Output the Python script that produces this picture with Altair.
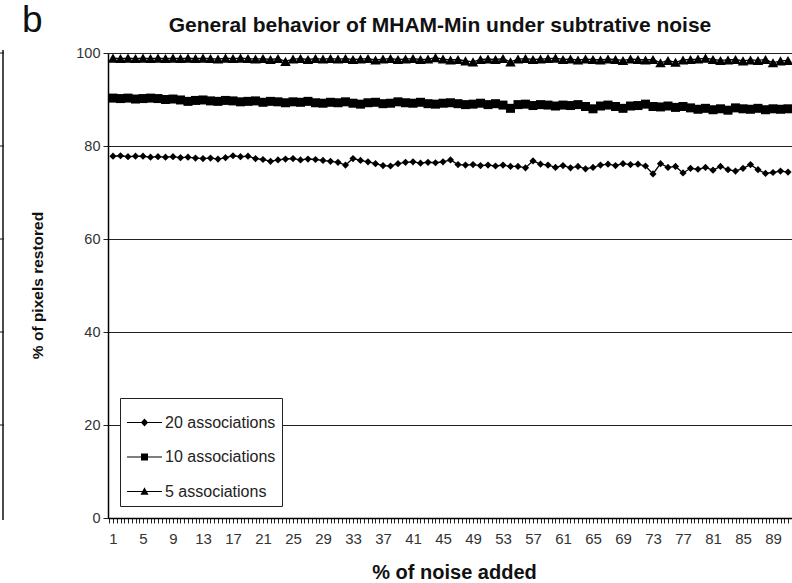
import altair as alt
import pandas as pd

noise = list(range(1, 92))

assoc20 = [77.8, 77.9, 77.7, 77.8, 77.8, 77.6, 77.7, 77.6, 77.7, 77.5, 77.6,
           77.4, 77.3, 77.4, 77.2, 77.5,
           77.9, 77.7, 77.8,
           77.3, 77.1, 76.7, 77.0, 77.2,
           77.3, 77.0, 77.2, 77.1, 76.9, 76.7, 76.5,
           75.9, 77.3, 76.9, 76.6, 76.2, 75.8, 75.7,
           76.2, 76.5, 76.6, 76.3, 76.5, 76.4, 76.6, 77.0,
           76.0, 75.9, 76.0, 75.8, 75.9, 75.7, 75.9, 75.6, 75.6, 75.3,
           76.8, 76.1, 75.9, 75.4, 75.8, 75.3, 75.6, 75.1, 75.4,
           75.9, 76.1, 75.8, 76.2, 76.0, 76.1, 75.7,
           74.0, 76.2, 75.4, 75.6, 74.2, 75.2, 75.0, 75.4, 74.8, 75.6,
           74.9, 74.6, 75.2, 76.0, 74.9, 74.1, 74.3, 74.6, 74.4]

assoc10 = [90.3, 90.2, 90.3, 90.1, 90.2, 90.3, 90.2, 90.0, 90.1, 89.9,
           89.6, 89.8, 89.9, 89.7, 89.6, 89.8, 89.7, 89.5, 89.6, 89.7,
           89.4, 89.6, 89.5, 89.3, 89.5, 89.4, 89.6, 89.3, 89.2, 89.4,
           89.3, 89.5, 89.2, 89.0, 89.3, 89.4, 89.1, 89.2, 89.5, 89.3,
           89.2, 89.4, 89.1, 89.0, 89.2, 89.3, 89.1, 88.9, 89.0, 89.2,
           88.9, 89.1, 88.8, 88.1, 88.9, 89.0, 88.7, 88.9, 88.8, 88.6,
           88.8, 88.7, 88.9, 88.5, 88.0, 88.6, 88.8, 88.5, 88.1, 88.6,
           88.7, 89.0, 88.5, 88.4, 88.6, 88.3, 88.5, 88.2, 87.9, 88.1,
           87.8, 88.0, 87.7, 88.2, 88.0, 87.9, 88.1, 87.8, 88.0, 87.9, 88.0]

assoc5 = [98.9, 98.8, 98.9, 98.8, 98.9, 98.8, 98.9, 98.8, 98.9, 98.8,
          98.9, 98.8, 98.9, 98.8, 98.7, 98.9, 98.8, 98.9, 98.8, 98.7,
          98.8, 98.6, 98.8, 98.2, 98.7, 98.8, 98.6, 98.8, 98.7, 98.8,
          98.7, 98.8, 98.6, 98.7, 98.8, 98.5, 98.7, 98.8, 98.6, 98.7,
          98.8, 98.6, 98.7, 99.0, 98.7, 98.5, 98.6, 98.3, 98.1, 98.6,
          98.7, 98.6, 98.8, 98.1, 98.7, 98.8, 98.6, 98.7, 98.8, 98.9,
          98.6, 98.7, 98.5, 98.7, 98.6, 98.5, 98.7, 98.6, 98.4, 98.7,
          98.6, 98.5, 98.6, 97.9, 98.4, 98.0, 98.5, 98.6, 98.7, 98.9,
          98.6, 98.4, 98.5, 98.6, 98.3, 98.5, 98.4, 98.6, 97.9, 98.3, 98.4]

series_names = ["20 associations", "10 associations", "5 associations"]
marker_shapes = ["diamond", "square", "triangle-up"]
marker_sizes = [52, 110, 55]

# legend symbols: a thin filled bar (the line) plus a filled marker, in Vega's -1..1 symbol space
LINE_BAR = "M-1,-0.035H1V0.035H-1Z"
legend_symbols = [
    LINE_BAR + "M0,-0.23L0.21,0L0,0.23L-0.21,0Z",
    LINE_BAR + "M-0.2,-0.2H0.2V0.2H-0.2Z",
    LINE_BAR + "M0,-0.25L0.23,0.18H-0.23Z",
]
y_ticks = [0, 20, 40, 60, 80, 100]
x_tick_values = [i / 2 for i in range(1, 184)]

title_text = ["General behavior of MHAM-Min under subtrative noise"]
panel_letter = ["b"]

rows = []
for name, vals in zip(series_names, [assoc20, assoc10, assoc5]):
    for x, v in zip(noise, vals):
        rows.append({"noise": x, "restored": v, "series": name, "legend_series": name})
df = pd.DataFrame(rows)

FONT = "Liberation Sans"
W, H = 684, 465
PX_PER_UNIT = 7.5
x_min = 1 - 5 / PX_PER_UNIT
x_max = x_min + W / PX_PER_UNIT

x_enc = alt.X(
    "noise:Q",
    scale=alt.Scale(domain=[x_min, x_max], nice=False, zero=False),
    axis=alt.Axis(
        values=x_tick_values,
        labelExpr="(datum.value - 1) % 4 == 0 ? format(datum.value, 'd') : ''",
        labelOverlap=False,
        labelFlush=False,
        labelBound=False,
        grid=False,
        domainColor="black",
        domainWidth=1.5,
        tickColor="#222",
        tickSize=5,
        tickWidth=1,
        labelFont=FONT,
        labelFontSize=15,
        labelColor="#333",
        labelPadding=8,
        labelBaseline="top",
        title="% of noise added",
        titleFont=FONT,
        titleFontSize=20,
        titleFontWeight="bold",
        titleColor="#111",
        titleX=346,
        titleY=60,
        titleBaseline="alphabetic",
        titleAlign="center",
    ),
)

y_enc = alt.Y(
    "restored:Q",
    scale=alt.Scale(domain=[0, 100], nice=False),
    axis=alt.Axis(
        values=y_ticks,
        grid=True,
        gridColor="#222",
        gridWidth=1.2,
        domainColor="black",
        domainWidth=1.5,
        tickColor="#222",
        tickSize=5,
        labelFont=FONT,
        labelFontSize=14.5,
        labelColor="#333",
        labelPadding=3,
        title="% of pixels restored",
        titleFont=FONT,
        titleFontSize=15.5,
        titleFontWeight="bold",
        titleColor="#111",
        titleAngle=270,
        titleX=-71,
        titleY=232,
        titleAlign="center",
        titleBaseline="middle",
    ),
)

base = alt.Chart(df)

lines = base.mark_line(color="black", strokeWidth=1.3).encode(
    x=x_enc, y=y_enc, detail="series:N"
)

points = base.mark_point(filled=True, color="black", opacity=1).encode(
    x=x_enc,
    y=y_enc,
    shape=alt.Shape("series:N", scale=alt.Scale(domain=series_names, range=marker_shapes), legend=None),
    size=alt.Size("series:N", scale=alt.Scale(domain=series_names, range=marker_sizes), legend=None),
)

legend_layer = base.mark_point(opacity=0, filled=True, color="black").encode(
    x=x_enc,
    y=y_enc,
    shape=alt.Shape(
        "legend_series:N",
        scale=alt.Scale(domain=series_names, range=legend_symbols),
        legend=alt.Legend(
            orient="none",
            legendX=12,
            legendY=345,
            title=None,
            strokeColor="#222",
            fillColor="white",
            padding=6,
            symbolSize=1225,
            symbolFillColor="black",
            symbolOpacity=1,
            labelFont=FONT,
            labelFontSize=16,
            labelColor="#222",
            labelOffset=2,
            rowPadding=7.5,
            labelLimit=300,
        ),
    ),
)

# left edge of the neighbouring panel
frag_df = pd.DataFrame({"restored": y_ticks[1:]})
frag_line = alt.Chart(pd.DataFrame({"k": [0]})).mark_rule(color="#111", strokeWidth=1.5).encode(
    x=alt.value(-105), y=alt.value(-3), y2=alt.value(H + 2)
)
frag_ticks = alt.Chart(frag_df).mark_rule(color="#111", strokeWidth=1).encode(
    x=alt.value(-108), x2=alt.value(-104), y=y_enc
)

letter = alt.Chart(pd.DataFrame({"label": panel_letter})).mark_text(
    align="left", baseline="alphabetic", fontSize=37, font=FONT, color="#111"
).encode(x=alt.value(-86), y=alt.value(-21), text="label:N")

title_mark = alt.Chart(pd.DataFrame({"label": title_text})).mark_text(
    align="center", baseline="alphabetic", fontSize=21, fontWeight="bold", font=FONT, color="#111"
).encode(x=alt.value(332), y=alt.value(-21), text="label:N")

chart = (
    alt.layer(frag_line, frag_ticks, lines, points, legend_layer, letter, title_mark)
    .resolve_scale(shape="independent", size="independent")
    .properties(
        width=W,
        height=H,
        padding={"left": 108, "top": 53, "right": 0, "bottom": 65},
        autosize=alt.AutoSizeParams(type="none"),
    )
    .configure_view(stroke=None)
    .configure(background="white")
)

chart.save("out.html", embed_options={"renderer": "svg", "actions": False})
